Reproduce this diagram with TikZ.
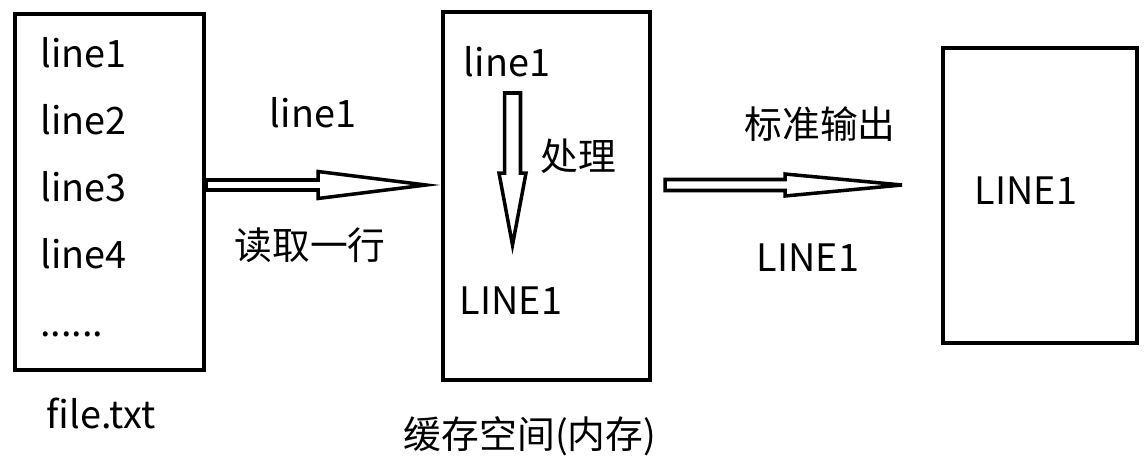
\documentclass[tikz,border=0pt]{standalone}
\usepackage{fontspec}
\setmainfont{Noto Sans CJK SC}
\usetikzlibrary{calc,positioning}
\tikzset{
  box/.style={draw,line width=2.3pt,inner sep=0pt},
  txt/.style={inner sep=0pt,anchor=base,font=\fontsize{21.5pt}{26pt}\selectfont},
  item/.style={txt,anchor=base west},
  barrow/.style={draw,line width=2pt,fill=white,line join=miter}
}
% hollow block arrow: from, to, shaft half width, head half width, head length
\newcommand{\blockarrow}[5]{%
  \coordinate (hb) at ($(#2)!#5!(#1)$);
  \draw[barrow] ($(#1)!#3!90:(#2)$) -- ($(hb)!#3!-90:(#1)$) -- ($(hb)!#4!-90:(#1)$)
    -- (#2) -- ($(hb)!#4!90:(#1)$) -- ($(hb)!#3!90:(#1)$) -- ($(#1)!#3!-90:(#2)$) -- cycle;}

\begin{document}
\begin{tikzpicture}[x=0.02cm,y=-0.02cm]
\useasboundingbox (0,0) rectangle (1146,459);
% boxes
\node[box,minimum width=3.78cm,minimum height=7.12cm] (file) at (109.5,192) {};
\node[box,minimum width=4.14cm,minimum height=7.36cm] (cache) at (546.5,196) {};
\node[box,minimum width=3.88cm,minimum height=5.9cm] (out) at (1040,195.5) {};
% contents of file.txt
\node[item] (l1) at (40,68) {line1};
\node[item] (l2) at (40,135) {line2};
\node[item] (l3) at (40,202) {line3};
\node[item] (l4) at (40,269) {line4};
\node[item] (ldots) at (40,337) {......};
\node[txt] (fname) at (101,428) {file.txt};
% buffer
\node[txt] (cin) at (507,77) {line1};
\node[txt] (proc) at (578,171) {处理};
\node[txt] (cout) at (511,315) {LINE1};
\node[txt] (cname) at (530,448) {缓存空间(内存)};
% output
\node[txt] (res) at (1026,205) {LINE1};
% arrow labels
\node[txt] (rdtop) at (313,128) {line1};
\node[txt] (rdbot) at (310,259) {读取一行};
\node[txt] (wrtop) at (820,139) {标准输出};
\node[txt] (wrbot) at (808,272) {LINE1};
% arrows
\coordinate (a1s) at (file.east |- 0,185);
\coordinate (a1e) at (426,185);
\coordinate (a2s) at (665,185);
\coordinate (a2e) at (902,185);
\coordinate (a3s) at (512.5,93);
\coordinate (a3e) at (512.5,245);
\blockarrow{a1s}{a1e}{0.1cm}{0.27cm}{2.16cm}
\blockarrow{a2s}{a2e}{0.11cm}{0.22cm}{2.34cm}
\blockarrow{a3s}{a3e}{0.16cm}{0.27cm}{1.44cm}
\end{tikzpicture}
\end{document}
